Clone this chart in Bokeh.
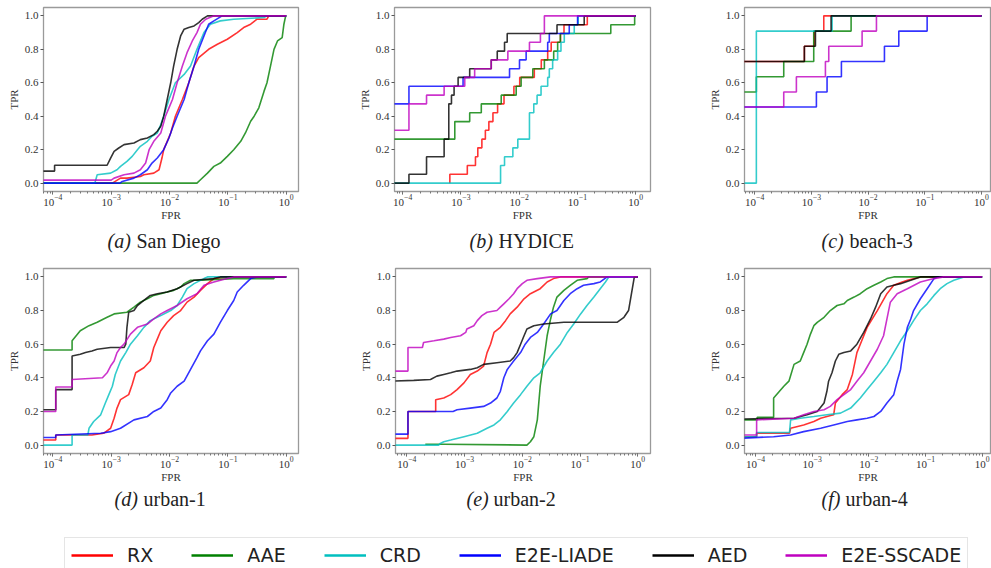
import math
from bokeh.plotting import figure
from bokeh.layouts import column, row
from bokeh.models import Range1d, FixedTicker, PrintfTickFormatter, Legend, LegendItem
from bokeh.core.properties import value
from bokeh.embed import file_html
from bokeh.resources import INLINE

SERIES = ["RX", "AAE", "CRD", "E2E-LIADE", "AED", "E2E-SSCADE"]
COLORS = ["#ff0000", "#008000", "#00bfbf", "#0000ff", "#000000", "#bf00bf"]
Y_TICKS = [0.0, 0.2, 0.4, 0.6, 0.8, 1.0]
X_LABEL = "FPR"
Y_LABEL = "TPR"
PANEL_LETTERS = ["(a)", "(b)", "(c)", "(d)", "(e)", "(f)"]
PANEL_NAMES = ["San Diego", "HYDICE", "beach-3", "urban-1", "urban-2", "urban-4"]

# FPR values are given as powers of ten (log10 FPR), TPR as read from the picture
# ---------------- (a) San Diego ----------------
A_RX_LOGFPR = [-4.3, -2.98, -2.84, -2.73, -2.5, -2.44, -2.27, -2.18, -2.13, -2.10, -2.04, -1.98, -1.90, -1.78, -1.67, -1.58, -1.50, -1.33, -1.18, -1.01, -0.84, -0.73, -0.61, -0.50, -0.33, -0.30, 0.0]
A_RX_TPR = [0.0, 0.0, 0.03, 0.03, 0.04, 0.05, 0.06, 0.08, 0.15, 0.2, 0.25, 0.3, 0.4, 0.5, 0.6, 0.7, 0.75, 0.8, 0.83, 0.86, 0.9, 0.93, 0.95, 0.98, 0.98, 1.0, 1.0]
A_AAE_LOGFPR = [-4.3, -1.53, -1.47, -1.35, -1.24, -1.13, -1.01, -0.90, -0.78, -0.70, -0.61, -0.55, -0.47, -0.38, -0.33, -0.27, -0.21, -0.15, -0.07, -0.04, -0.01, 0.0]
A_AAE_TPR = [0.0, 0.0, 0.02, 0.06, 0.1, 0.12, 0.16, 0.2, 0.25, 0.3, 0.37, 0.4, 0.45, 0.55, 0.6, 0.7, 0.8, 0.85, 0.87, 0.95, 1.0, 1.0]
A_CRD_LOGFPR = [-4.3, -3.28, -3.24, -3.01, -2.90, -2.84, -2.73, -2.64, -2.55, -2.50, -2.38, -2.30, -2.21, -2.15, -2.10, -2.01, -1.90, -1.75, -1.64, -1.53, -1.41, -1.30, -1.13, -0.90, -0.38, -0.33, 0.0]
A_CRD_TPR = [0.0, 0.0, 0.05, 0.06, 0.08, 0.1, 0.13, 0.16, 0.2, 0.22, 0.25, 0.28, 0.3, 0.35, 0.4, 0.5, 0.6, 0.65, 0.7, 0.8, 0.9, 0.95, 0.97, 0.98, 0.99, 1.0, 1.0]
A_LIADE_LOGFPR = [-4.3, -2.85, -2.81, -2.61, -2.50, -2.38, -2.30, -2.21, -2.10, -2.01, -1.95, -1.87, -1.75, -1.67, -1.58, -1.50, -1.41, -1.33, -1.24, -1.10, 0.0]
A_LIADE_TPR = [0.0, 0.0, 0.01, 0.03, 0.05, 0.08, 0.12, 0.15, 0.2, 0.27, 0.33, 0.4, 0.5, 0.6, 0.7, 0.8, 0.88, 0.95, 0.97, 1.0, 1.0]
A_AED_LOGFPR = [-4.3, -3.97, -3.97, -3.07, -3.01, -2.95, -2.87, -2.78, -2.61, -2.50, -2.38, -2.27, -2.21, -2.15, -2.10, -2.04, -1.98, -1.93, -1.87, -1.81, -1.75, -1.67, -1.58, -1.50, -1.44, -1.35, 0.0]
A_AED_TPR = [0.072, 0.072, 0.107, 0.107, 0.15, 0.19, 0.21, 0.23, 0.24, 0.26, 0.27, 0.29, 0.31, 0.34, 0.4, 0.5, 0.6, 0.7, 0.8, 0.88, 0.92, 0.93, 0.94, 0.96, 0.98, 1.0, 1.0]
A_SSCADE_LOGFPR = [-4.3, -3.0, -2.95, -2.78, -2.61, -2.50, -2.41, -2.35, -2.27, -2.15, -2.07, -2.01, -1.95, -1.87, -1.78, -1.70, -1.61, -1.53, -1.47, -1.38, -1.24, 0.0]
A_SSCADE_TPR = [0.018, 0.018, 0.03, 0.05, 0.06, 0.08, 0.12, 0.2, 0.25, 0.3, 0.4, 0.45, 0.5, 0.6, 0.7, 0.78, 0.85, 0.9, 0.95, 0.98, 1.0, 1.0]

# ---------------- (b) HYDICE (step curves) ----------------
B_RX_LOGFPR = [-3.19, -3.19, -2.89, -2.75, -2.71, -2.64, -2.58, -2.52, -2.45, -2.37, -2.26, -2.09, -1.99, -1.74, -1.62, -1.51, -1.45, -1.29, -1.23, -0.83, 0.0]
B_RX_TPR = [0.0, 0.053, 0.105, 0.158, 0.211, 0.263, 0.316, 0.368, 0.421, 0.474, 0.526, 0.579, 0.632, 0.684, 0.737, 0.789, 0.842, 0.895, 0.947, 1.0, 1.0]
B_AAE_LOGFPR = [-4.3, -3.105, -2.849, -2.65, -2.308, -2.051, -1.966, -1.766, -1.567, -1.407, -1.339, -1.293, -0.427, -0.017, 0.0]
B_AAE_TPR = [0.263, 0.368, 0.421, 0.474, 0.526, 0.579, 0.632, 0.684, 0.737, 0.789, 0.842, 0.895, 0.947, 1.0, 1.0]
B_CRD_LOGFPR = [-4.3, -2.319, -2.251, -2.108, -2.023, -1.823, -1.749, -1.692, -1.624, -1.51, -1.482, -1.425, -1.339, -1.282, -1.225, -1.054, -0.986, 0.0]
B_CRD_TPR = [0.0, 0.105, 0.158, 0.211, 0.263, 0.421, 0.474, 0.526, 0.579, 0.632, 0.684, 0.737, 0.789, 0.842, 0.895, 0.947, 1.0, 1.0]
B_LIADE_LOGFPR = [-4.3, -3.892, -2.963, -2.165, -1.994, -1.880, -1.510, -1.482, -1.14, -0.997, 0.0]
B_LIADE_TPR = [0.474, 0.579, 0.632, 0.684, 0.737, 0.789, 0.842, 0.895, 0.947, 1.0, 1.0]
B_AED_LOGFPR = [-4.3, -3.892, -3.59, -3.288, -3.208, -3.162, -3.117, -3.048, -2.849, -2.479, -2.376, -2.251, -2.205, -1.35, -0.883, 0.0]
B_AED_TPR = [0.0, 0.053, 0.158, 0.263, 0.474, 0.526, 0.579, 0.632, 0.684, 0.737, 0.789, 0.842, 0.895, 0.947, 1.0, 1.0]
B_SSCADE_LOGFPR = [-4.3, -3.892, -3.59, -3.288, -2.934, -2.764, -2.479, -2.194, -1.823, -1.635, -1.567, 0.0]
B_SSCADE_TPR = [0.316, 0.474, 0.526, 0.579, 0.632, 0.684, 0.737, 0.789, 0.842, 0.895, 1.0, 1.0]

# ---------------- (c) beach-3 (step curves) ----------------
C_RX_LOGFPR = [-4.3, -3.124, -2.947, -2.782, 0.0]
C_RX_TPR = [0.727, 0.818, 0.909, 1.0, 1.0]
C_AAE_LOGFPR = [-4.3, -3.971, -3.488, -2.959, -2.300, 0.0]
C_AAE_TPR = [0.545, 0.636, 0.727, 0.909, 1.0, 1.0]
C_CRD_LOGFPR = [-4.3, -3.971, -2.635, 0.0]
C_CRD_TPR = [0.0, 0.909, 1.0, 1.0]
C_LIADE_LOGFPR = [-4.3, -2.912, -2.724, -2.471, -1.712, -1.459, -0.959, 0.0]
C_LIADE_TPR = [0.455, 0.545, 0.636, 0.727, 0.818, 0.909, 1.0, 1.0]
C_AED_LOGFPR = [-4.3, -3.124, -2.929, -2.653, 0.0]
C_AED_TPR = [0.727, 0.818, 0.909, 1.0, 1.0]
C_SSCADE_LOGFPR = [-4.3, -3.488, -3.265, -2.753, -2.694, -2.106, -1.853, 0.0]
C_SSCADE_TPR = [0.455, 0.545, 0.636, 0.727, 0.818, 0.909, 1.0, 1.0]

# ---------------- (d) urban-1 ----------------
D_RX_LOGFPR = [-4.3, -3.95, -3.95, -3.33, -3.13, -3.01, -2.95, -2.90, -2.84, -2.70, -2.64, -2.58, -2.44, -2.33, -2.27, -2.21, -2.15, -2.04, -1.93, -1.81, -1.70, -1.58, -1.47, -1.35, -1.24, -1.01, 0.0]
D_RX_TPR = [0.03, 0.03, 0.06, 0.06, 0.07, 0.1, 0.16, 0.22, 0.27, 0.3, 0.36, 0.43, 0.46, 0.5, 0.58, 0.63, 0.68, 0.73, 0.77, 0.8, 0.85, 0.88, 0.92, 0.96, 0.99, 1.0, 1.0]
D_AAE_LOGFPR = [-4.3, -3.67, -3.67, -3.53, -3.38, -3.24, -3.13, -3.07, -2.95, -2.73, -2.61, -2.50, -2.38, -2.27, -2.15, -2.04, -1.93, -1.81, -1.75, -1.64, -1.47, -0.9, -0.21, -0.21, 0.0]
D_AAE_TPR = [0.565, 0.565, 0.62, 0.68, 0.71, 0.73, 0.75, 0.76, 0.78, 0.79, 0.82, 0.85, 0.87, 0.89, 0.9, 0.91, 0.92, 0.94, 0.96, 0.98, 0.98, 0.99, 0.99, 1.0, 1.0]
D_CRD_LOGFPR = [-4.3, -3.67, -3.67, -3.40, -3.38, -3.30, -3.18, -3.10, -3.04, -2.98, -2.93, -2.84, -2.75, -2.67, -2.55, -2.44, -2.33, -2.15, -1.98, -1.87, -1.78, -1.70, -1.58, -1.41, -1.35, 0.0]
D_CRD_TPR = [0.0, 0.0, 0.06, 0.06, 0.1, 0.14, 0.18, 0.25, 0.3, 0.35, 0.42, 0.5, 0.55, 0.6, 0.65, 0.7, 0.74, 0.77, 0.8, 0.83, 0.88, 0.93, 0.96, 0.99, 1.0, 1.0]
D_LIADE_LOGFPR = [-4.3, -3.95, -3.95, -3.18, -3.01, -2.84, -2.61, -2.38, -2.27, -2.15, -2.04, -1.98, -1.87, -1.75, -1.64, -1.53, -1.47, -1.35, -1.24, -1.13, -1.01, -0.90, -0.84, -0.73, -0.61, -0.50, 0.0]
D_LIADE_TPR = [0.045, 0.045, 0.06, 0.07, 0.08, 0.1, 0.15, 0.17, 0.2, 0.22, 0.27, 0.31, 0.35, 0.38, 0.45, 0.52, 0.56, 0.62, 0.66, 0.73, 0.8, 0.86, 0.91, 0.95, 0.99, 1.0, 1.0]
D_AED_LOGFPR = [-4.3, -3.95, -3.95, -3.67, -3.67, -3.53, -3.44, -3.33, -3.24, -3.01, -2.78, -2.75, -2.73, -2.70, -2.61, -2.55, -2.44, -2.33, -2.21, -2.04, -1.87, -1.70, -1.58, -1.24, -1.13, 0.0]
D_AED_TPR = [0.21, 0.21, 0.33, 0.33, 0.53, 0.54, 0.55, 0.56, 0.57, 0.58, 0.58, 0.6, 0.7, 0.79, 0.8, 0.83, 0.86, 0.89, 0.9, 0.91, 0.93, 0.96, 0.98, 0.99, 1.0, 1.0]
D_SSCADE_LOGFPR = [-4.3, -3.95, -3.95, -3.67, -3.67, -3.15, -3.07, -3.01, -2.95, -2.90, -2.84, -2.78, -2.67, -2.55, -2.38, -2.27, -2.15, -2.04, -1.87, -1.70, -1.53, -1.41, -1.24, -1.01, -0.90, 0.0]
D_SSCADE_TPR = [0.2, 0.2, 0.345, 0.345, 0.39, 0.4, 0.43, 0.47, 0.5, 0.55, 0.58, 0.6, 0.66, 0.7, 0.72, 0.75, 0.78, 0.8, 0.83, 0.87, 0.9, 0.95, 0.97, 0.99, 1.0, 1.0]

# ---------------- (e) urban-2 ----------------
E_RX_LOGFPR = [-4.3, -3.98, -3.98, -3.50, -3.50, -3.36, -3.24, -3.13, -3.01, -2.90, -2.78, -2.67, -2.61, -2.55, -2.49, -2.38, -2.29, -2.21, -2.09, -1.97, -1.86, -1.69, -1.57, -1.46, -1.34, 0.0]
E_RX_TPR = [0.04, 0.04, 0.2, 0.2, 0.27, 0.28, 0.3, 0.33, 0.37, 0.42, 0.44, 0.47, 0.55, 0.6, 0.67, 0.7, 0.74, 0.78, 0.82, 0.87, 0.9, 0.93, 0.97, 0.99, 1.0, 1.0]
E_AAE_LOGFPR = [-3.68, -3.36, -1.92, -1.86, -1.80, -1.74, -1.69, -1.63, -1.57, -1.51, -1.46, -1.40, -1.28, -1.17, -1.05, -0.88, -0.85, 0.0]
E_AAE_TPR = [0.005, 0.005, 0.0, 0.02, 0.05, 0.15, 0.35, 0.5, 0.65, 0.75, 0.82, 0.88, 0.92, 0.95, 0.98, 0.99, 1.0, 1.0]
E_CRD_LOGFPR = [-4.3, -3.45, -3.42, -3.36, -3.24, -3.01, -2.78, -2.61, -2.49, -2.38, -2.26, -2.15, -2.03, -1.92, -1.80, -1.69, -1.57, -1.46, -1.34, -1.22, -1.11, -0.99, -0.88, -0.76, -0.65, -0.56, -0.50, 0.0]
E_CRD_TPR = [0.0, 0.0, 0.01, 0.02, 0.03, 0.05, 0.07, 0.1, 0.12, 0.15, 0.2, 0.25, 0.3, 0.35, 0.4, 0.43, 0.5, 0.55, 0.6, 0.67, 0.72, 0.78, 0.83, 0.88, 0.93, 0.97, 1.0, 1.0]
E_LIADE_LOGFPR = [-4.3, -3.98, -3.98, -3.20, -3.13, -2.90, -2.67, -2.55, -2.44, -2.38, -2.32, -2.26, -2.15, -2.03, -1.95, -1.86, -1.74, -1.63, -1.51, -1.40, -1.28, -1.17, -1.05, -0.94, -0.76, -0.65, -0.53, 0.0]
E_LIADE_TPR = [0.065, 0.065, 0.2, 0.2, 0.21, 0.22, 0.23, 0.25, 0.28, 0.32, 0.4, 0.45, 0.5, 0.55, 0.6, 0.64, 0.67, 0.72, 0.78, 0.8, 0.86, 0.9, 0.93, 0.95, 0.96, 0.97, 1.0, 1.0]
E_AED_LOGFPR = [-4.3, -3.88, -3.59, -3.48, -3.36, -3.24, -3.13, -2.90, -2.78, -2.67, -2.44, -2.21, -2.15, -2.09, -2.03, -1.97, -1.92, -1.80, -1.63, -1.28, -0.36, -0.24, -0.16, -0.10, -0.06, 0.0]
E_AED_TPR = [0.38, 0.385, 0.39, 0.41, 0.42, 0.43, 0.44, 0.45, 0.46, 0.48, 0.49, 0.5, 0.52, 0.55, 0.6, 0.65, 0.69, 0.71, 0.72, 0.73, 0.73, 0.76, 0.8, 0.92, 1.0, 1.0]
E_SSCADE_LOGFPR = [-4.3, -3.98, -3.98, -3.73, -3.71, -3.53, -3.36, -3.24, -3.07, -2.98, -2.96, -2.84, -2.78, -2.70, -2.61, -2.44, -2.38, -2.32, -2.23, -2.15, -2.09, -2.00, -1.92, -1.74, -1.51, 0.0]
E_SSCADE_TPR = [0.44, 0.44, 0.58, 0.58, 0.61, 0.62, 0.63, 0.64, 0.65, 0.67, 0.69, 0.71, 0.74, 0.77, 0.79, 0.8, 0.82, 0.84, 0.87, 0.9, 0.93, 0.96, 0.98, 0.99, 1.0, 1.0]

# ---------------- (f) urban-4 ----------------
F_RX_LOGFPR = [-4.3, -3.98, -3.98, -3.40, -3.38, -3.15, -2.97, -2.85, -2.74, -2.62, -2.59, -2.47, -2.38, -2.29, -2.21, -2.15, -2.03, -1.85, -1.68, -1.56, -1.41, -1.32, -1.09, 0.0]
F_RX_TPR = [0.05, 0.05, 0.07, 0.07, 0.1, 0.12, 0.14, 0.16, 0.17, 0.18, 0.25, 0.3, 0.33, 0.42, 0.55, 0.6, 0.7, 0.8, 0.9, 0.95, 0.97, 0.98, 1.0, 1.0]
F_AAE_LOGFPR = [-4.3, -3.97, -3.97, -3.68, -3.68, -3.50, -3.41, -3.32, -3.21, -3.15, -3.09, -3.03, -2.97, -2.91, -2.79, -2.68, -2.56, -2.44, -2.38, -2.26, -2.15, -2.03, -1.91, -1.79, -1.68, -1.56, 0.0]
F_AAE_TPR = [0.15, 0.15, 0.165, 0.165, 0.28, 0.35, 0.38, 0.48, 0.5, 0.55, 0.6, 0.66, 0.71, 0.73, 0.76, 0.8, 0.83, 0.84, 0.86, 0.88, 0.9, 0.93, 0.95, 0.97, 0.99, 1.0, 1.0]
F_CRD_LOGFPR = [-4.3, -3.98, -3.98, -3.40, -3.38, -3.21, -2.97, -2.74, -2.50, -2.32, -2.15, -2.03, -1.91, -1.79, -1.68, -1.56, -1.44, -1.32, -1.21, -1.09, -0.97, -0.85, -0.74, -0.62, -0.50, -0.32, 0.0]
F_CRD_TPR = [0.05, 0.05, 0.075, 0.075, 0.15, 0.16, 0.17, 0.18, 0.19, 0.22, 0.28, 0.33, 0.38, 0.43, 0.48, 0.55, 0.62, 0.68, 0.74, 0.8, 0.84, 0.89, 0.93, 0.96, 0.98, 1.0, 1.0]
F_LIADE_LOGFPR = [-4.3, -3.68, -3.38, -3.15, -2.85, -2.62, -2.38, -2.21, -2.03, -1.91, -1.79, -1.68, -1.56, -1.50, -1.44, -1.38, -1.32, -1.26, -1.21, -1.09, -0.97, -0.85, -0.79, 0.0]
F_LIADE_TPR = [0.04, 0.05, 0.06, 0.08, 0.1, 0.12, 0.14, 0.15, 0.16, 0.17, 0.2, 0.25, 0.3, 0.38, 0.45, 0.6, 0.7, 0.75, 0.8, 0.87, 0.93, 0.99, 1.0, 1.0]
F_AED_LOGFPR = [-4.3, -3.32, -3.09, -2.91, -2.79, -2.74, -2.71, -2.65, -2.59, -2.53, -2.44, -2.32, -2.21, -2.09, -1.97, -1.88, -1.79, -1.68, -1.56, -1.44, -1.26, -1.09, 0.0]
F_AED_TPR = [0.155, 0.16, 0.18, 0.2, 0.25, 0.32, 0.38, 0.43, 0.5, 0.54, 0.55, 0.56, 0.6, 0.67, 0.75, 0.82, 0.9, 0.94, 0.95, 0.96, 0.98, 1.0, 1.0]
F_SSCADE_LOGFPR = [-4.3, -3.98, -3.98, -3.32, -3.15, -2.97, -2.79, -2.68, -2.56, -2.44, -2.32, -2.21, -2.09, -1.97, -1.85, -1.74, -1.68, -1.62, -1.50, -1.32, -1.09, -0.85, -0.68, 0.0]
F_SSCADE_TPR = [0.06, 0.06, 0.15, 0.16, 0.18, 0.2, 0.21, 0.23, 0.27, 0.3, 0.33, 0.38, 0.43, 0.5, 0.57, 0.65, 0.75, 0.85, 0.9, 0.93, 0.97, 0.99, 1.0, 1.0]

PANEL_DATA = [
    [(A_RX_LOGFPR, A_RX_TPR), (A_AAE_LOGFPR, A_AAE_TPR), (A_CRD_LOGFPR, A_CRD_TPR),
     (A_LIADE_LOGFPR, A_LIADE_TPR), (A_AED_LOGFPR, A_AED_TPR), (A_SSCADE_LOGFPR, A_SSCADE_TPR)],
    [(B_RX_LOGFPR, B_RX_TPR), (B_AAE_LOGFPR, B_AAE_TPR), (B_CRD_LOGFPR, B_CRD_TPR),
     (B_LIADE_LOGFPR, B_LIADE_TPR), (B_AED_LOGFPR, B_AED_TPR), (B_SSCADE_LOGFPR, B_SSCADE_TPR)],
    [(C_RX_LOGFPR, C_RX_TPR), (C_AAE_LOGFPR, C_AAE_TPR), (C_CRD_LOGFPR, C_CRD_TPR),
     (C_LIADE_LOGFPR, C_LIADE_TPR), (C_AED_LOGFPR, C_AED_TPR), (C_SSCADE_LOGFPR, C_SSCADE_TPR)],
    [(D_RX_LOGFPR, D_RX_TPR), (D_AAE_LOGFPR, D_AAE_TPR), (D_CRD_LOGFPR, D_CRD_TPR),
     (D_LIADE_LOGFPR, D_LIADE_TPR), (D_AED_LOGFPR, D_AED_TPR), (D_SSCADE_LOGFPR, D_SSCADE_TPR)],
    [(E_RX_LOGFPR, E_RX_TPR), (E_AAE_LOGFPR, E_AAE_TPR), (E_CRD_LOGFPR, E_CRD_TPR),
     (E_LIADE_LOGFPR, E_LIADE_TPR), (E_AED_LOGFPR, E_AED_TPR), (E_SSCADE_LOGFPR, E_SSCADE_TPR)],
    [(F_RX_LOGFPR, F_RX_TPR), (F_AAE_LOGFPR, F_AAE_TPR), (F_CRD_LOGFPR, F_CRD_TPR),
     (F_LIADE_LOGFPR, F_LIADE_TPR), (F_AED_LOGFPR, F_AED_TPR), (F_SSCADE_LOGFPR, F_SSCADE_TPR)],
]
STEP_PANELS = [False, True, True, False, False, False]

# ---------------- layout (pixels) ----------------
LAYOUT = [
    dict(w=330, h=226, bl=43, br=32, bt=7, bb=35, xr=(-4.16, 0.21)),
    dict(w=330, h=226, bl=64, br=10, bt=7, bb=35, xr=(-4.14, 0.255)),
    dict(w=331, h=226, bl=84, br=0, bt=7, bb=35, xr=(-4.18, 0.176)),
    dict(w=330, h=229, bl=43, br=32, bt=10, bb=34, xr=(-4.16, 0.21)),
    dict(w=330, h=229, bl=65, br=10, bt=10, bb=34, xr=(-4.196, 0.22)),
    dict(w=331, h=229, bl=84, br=0, bt=10, bb=34, xr=(-4.194, 0.165)),
]
# caption strips: start x of the italic letter and of the name (page pixels)
CAPTION_ROWS = [
    dict(h=32, y=18, letter_x=[107, 469, 821], name_x=[136, 498, 849], idx=[0, 1, 2]),
    dict(h=33, y=22, letter_x=[114, 466, 821], name_x=[143, 493, 845], idx=[3, 4, 5]),
]
PAGE_W = 991
SERIF = "Liberation Serif"


def make_panel(i):
    L = LAYOUT[i]
    p = figure(width=L["w"], height=L["h"], x_axis_type="log",
               x_range=Range1d(10 ** L["xr"][0], 10 ** L["xr"][1]),
               y_range=Range1d(-0.05, 1.05),
               output_backend="svg", toolbar_location=None, title=None,
               min_border_left=L["bl"], min_border_right=L["br"],
               min_border_top=L["bt"], min_border_bottom=L["bb"])
    p.grid.visible = False
    p.outline_line_color = "#9a9a9a"
    p.outline_line_width = 1.3
    for ax in (p.xaxis[0], p.yaxis[0]):
        ax.axis_line_color = None
        ax.major_tick_line_color = "#555555"
        ax.major_tick_out = 3
        ax.major_tick_in = 0
        ax.minor_tick_line_color = "#777777"
        ax.minor_tick_out = 2
        ax.minor_tick_in = 0
        ax.major_label_text_font = SERIF
        ax.major_label_text_font_size = "11px"
        ax.major_label_text_color = "#333333"
        ax.major_label_standoff = 2
        ax.axis_label_text_font = SERIF
        ax.axis_label_text_font_size = "11px"
        ax.axis_label_text_font_style = "normal"
        ax.axis_label_text_color = "#333333"
        ax.axis_label_standoff = 2
    p.xaxis.major_label_standoff = 0
    p.xaxis.axis_label_standoff = 0
    p.xaxis.axis_label = X_LABEL
    p.yaxis.axis_label = Y_LABEL
    p.yaxis.ticker = FixedTicker(ticks=Y_TICKS)
    p.yaxis.formatter = PrintfTickFormatter(format="%.1f")
    p.yaxis.minor_tick_line_color = None

    for (lx, tpr), color in zip(PANEL_DATA[i], COLORS):
        fpr = [10 ** v for v in lx]
        if STEP_PANELS[i]:
            p.step(fpr, tpr, mode="after", line_color=color, line_width=1.6, line_alpha=0.8)
        else:
            p.line(fpr, tpr, line_color=color, line_width=1.6, line_alpha=0.8)
    return p


def make_caption_strip(c):
    s = figure(width=PAGE_W, height=c["h"], x_range=Range1d(0, PAGE_W), y_range=Range1d(0, c["h"]),
               output_backend="svg", toolbar_location=None, title=None, min_border=0,
               x_axis_type=None, y_axis_type=None)
    s.grid.visible = False
    s.outline_line_color = None
    s.text(x=c["letter_x"], y=[c["y"]] * 3, text=[PANEL_LETTERS[k] for k in c["idx"]],
           text_font=value(SERIF), text_font_style="italic", text_font_size="20px",
           text_baseline="middle", text_align="left", text_color="#222222")
    s.text(x=c["name_x"], y=[c["y"]] * 3, text=[PANEL_NAMES[k] for k in c["idx"]],
           text_font=value(SERIF), text_font_style="normal", text_font_size="20px",
           text_baseline="middle", text_align="left", text_color="#222222")
    return s


panels = [make_panel(i) for i in range(6)]
captions = [make_caption_strip(c) for c in CAPTION_ROWS]

lg = figure(width=PAGE_W, height=48, x_range=Range1d(0, 1), y_range=Range1d(0, 1),
            output_backend="svg", toolbar_location=None, title=None,
            min_border=0, x_axis_type=None, y_axis_type=None)
lg.grid.visible = False
lg.outline_line_color = None
items = []
for name, color in zip(SERIES, COLORS):
    r = lg.line(x=[math.nan], y=[math.nan], line_color=color, line_width=2.6)
    items.append(LegendItem(label=name, renderers=[r]))
legend = Legend(items=items, orientation="horizontal", location=(64, -5),
                glyph_width=42, glyph_height=22, label_height=22, label_standoff=14,
                spacing=38, padding=6,
                label_text_font="DejaVu Sans", label_text_font_size="19px",
                label_text_color="#222222", label_text_baseline="middle",
                border_line_color="#cccccc", border_line_width=1.2,
                background_fill_color="white", background_fill_alpha=1.0)
lg.add_layout(legend)

layout = column(row(panels[0], panels[1], panels[2]),
                captions[0],
                row(panels[3], panels[4], panels[5]),
                captions[1],
                lg)

open("out.html", "w").write(file_html(layout, INLINE, title="ROC curves"))
